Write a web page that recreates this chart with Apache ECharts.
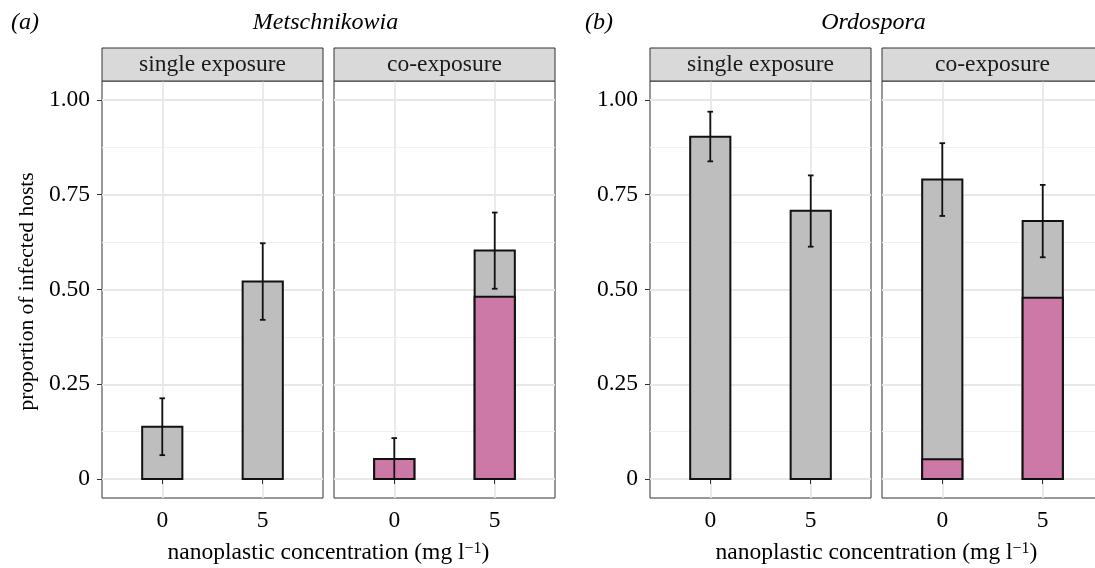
<!DOCTYPE html>
<html>
<head>
<meta charset="utf-8">
<script src="https://cdn.jsdelivr.net/npm/echarts@6/dist/echarts.min.js"></script>
<style>
html,body{margin:0;padding:0;background:#fff;}
#chart{width:1095px;height:568px;}
</style>
</head>
<body>
<div id="chart"></div>
<script>
// ---- data ----
const concentrations = ['0', '5'];
const xPositions = [1, 2];
const facetNames = ['single exposure', 'co-exposure'];
const parasites = ['Metschnikowia', 'Ordospora'];
const panelTags = ['(a)', '(b)'];
const yTicks = [0, 0.25, 0.5, 0.75, 1];
const yMinorTicks = [0.125, 0.375, 0.625, 0.875];

// Metschnikowia
const metSingleTotal = [0.138, 0.521];
const metSingleCo = [0, 0];
const metSingleLow = [0.063, 0.42];
const metSingleHigh = [0.213, 0.622];
const metCoTotal = [0.053, 0.603];
const metCoCo = [0.053, 0.481];
const metCoLow = [0, 0.502];
const metCoHigh = [0.108, 0.703];
// Ordospora
const ordSingleTotal = [0.903, 0.708];
const ordSingleCo = [0, 0];
const ordSingleLow = [0.838, 0.613];
const ordSingleHigh = [0.969, 0.801];
const ordCoTotal = [0.790, 0.681];
const ordCoCo = [0.052, 0.478];
const ordCoLow = [0.694, 0.585];
const ordCoHigh = [0.886, 0.776];

// ---- layout / style ----
const FONT = '"Liberation Serif", "DejaVu Serif", serif';
const facetLeft = [102, 334, 650, 882];
const facetWidth = 221;
const panelTop = 81;
const panelHeight = 417;
const stripH = 33;
const greyFill = '#bebebe';
const pinkFill = '#cc79a7';
const barHalf = 0.2;
const capHalf = 0.028;

const facets = [
  {total: metSingleTotal, co: metSingleCo, low: metSingleLow, high: metSingleHigh},
  {total: metCoTotal, co: metCoCo, low: metCoLow, high: metCoHigh},
  {total: ordSingleTotal, co: ordSingleCo, low: ordSingleLow, high: ordSingleHigh},
  {total: ordCoTotal, co: ordCoCo, low: ordCoLow, high: ordCoHigh}
];

const grids = [], xAxes = [], yAxes = [], series = [];
facets.forEach((f, i) => {
  grids.push({
    left: facetLeft[i], top: panelTop,
    width: facetWidth, height: panelHeight,
    show: true, borderColor: '#333333', borderWidth: 1, backgroundColor: '#ffffff',
    containLabel: false, outerBoundsMode: 'none'
  });
  xAxes.push({
    type: 'value', gridIndex: i, min: 0.4, max: 2.6,
    axisLine: {show: false},
    axisTick: {show: true, length: 5, lineStyle: {color: '#333333', width: 1}, customValues: xPositions},
    axisLabel: {show: true, customValues: xPositions, margin: 11,
      formatter: v => concentrations[xPositions.indexOf(Math.round(v))] || '',
      fontFamily: FONT, fontSize: 23.5, color: '#000'},
    splitLine: {show: true, lineStyle: {color: '#e8e8e8', width: 1.8}}
  });
  const leftmost = (i % 2 === 0);
  yAxes.push({
    type: 'value', gridIndex: i, min: -0.05, max: 1.05,
    axisLine: {show: false},
    axisTick: {show: leftmost, length: 5, lineStyle: {color: '#333333', width: 1}, customValues: yTicks},
    axisLabel: {show: leftmost, customValues: yTicks, margin: 12,
      formatter: v => (Math.abs(v) < 1e-9 ? '0' : v.toFixed(2)),
      fontFamily: FONT, fontSize: 23.5, color: '#000'},
    splitLine: {show: true, lineStyle: {color: '#e8e8e8', width: 1.8}}
  });
  yAxes.push({
    type: 'value', gridIndex: i, min: -0.05, max: 1.05,
    axisLine: {show: false},
    axisTick: {show: false, customValues: yMinorTicks},
    axisLabel: {show: false, customValues: yMinorTicks},
    splitLine: {show: true, lineStyle: {color: '#f0f0f0', width: 1}}
  });
  const data = xPositions.map((x, k) => [x, f.total[k], f.co[k], f.low[k], f.high[k]]);
  series.push({
    type: 'custom', xAxisIndex: i, yAxisIndex: 2 * i, data: data, z: 3,
    renderItem: function (params, api) {
      const x = api.value(0), tot = api.value(1), co = api.value(2), lo = api.value(3), hi = api.value(4);
      const p0 = api.coord([x - barHalf, 0]);
      const pT = api.coord([x + barHalf, tot]);
      const pC = api.coord([x + barHalf, co]);
      const children = [];
      children.push({type: 'rect', shape: {x: p0[0], y: pT[1], width: pT[0] - p0[0], height: p0[1] - pT[1]},
        style: {fill: greyFill, stroke: '#111', lineWidth: 2}});
      if (co > 0) {
        children.push({type: 'rect', shape: {x: p0[0], y: pC[1], width: pC[0] - p0[0], height: p0[1] - pC[1]},
          style: {fill: pinkFill, stroke: '#111', lineWidth: 2}});
      }
      const eL = api.coord([x, lo]), eH = api.coord([x, hi]);
      const cL = api.coord([x - capHalf, lo]), cR = api.coord([x + capHalf, lo]);
      const hL = api.coord([x - capHalf, hi]), hR = api.coord([x + capHalf, hi]);
      const ls = {stroke: '#111', lineWidth: 1.8};
      children.push({type: 'line', shape: {x1: eL[0], y1: eL[1], x2: eH[0], y2: eH[1]}, style: ls});
      children.push({type: 'line', shape: {x1: cL[0], y1: cL[1], x2: cR[0], y2: cR[1]}, style: ls});
      children.push({type: 'line', shape: {x1: hL[0], y1: hL[1], x2: hR[0], y2: hR[1]}, style: ls});
      return {type: 'group', children: children};
    }
  });
});

// strips, titles, axis titles
const graphics = [];
facetLeft.forEach((l, i) => {
  graphics.push({type: 'rect', x: l, y: panelTop - stripH, z: 10,
    shape: {x: 0, y: 0, width: facetWidth, height: stripH},
    style: {fill: '#d9d9d9', stroke: '#333333', lineWidth: 1}});
  graphics.push({type: 'text', x: l + facetWidth / 2, y: panelTop - stripH / 2, z: 11,
    style: {text: facetNames[i % 2], font: '23.5px ' + FONT, fill: '#1a1a1a', align: 'center', verticalAlign: 'middle'}});
});
[0, 1].forEach(p => {
  const left = facetLeft[2 * p], right = facetLeft[2 * p + 1] + facetWidth;
  const mid = (left + right) / 2;
  graphics.push({type: 'text', x: mid - 3, y: 23, z: 11,
    style: {text: parasites[p], font: 'italic 24px ' + FONT, fill: '#000', align: 'center', verticalAlign: 'middle'}});
  graphics.push({type: 'text', x: left - (p === 0 ? 91 : 65), y: 23, z: 11,
    style: {text: panelTags[p], font: 'italic 24px ' + FONT, fill: '#000', align: 'left', verticalAlign: 'middle'}});
  graphics.push({type: 'text', x: mid, y: 553, z: 11,
    style: {text: '{t|nanoplastic concentration (mg l}{s|\u22121}{t|)}', align: 'center', verticalAlign: 'middle',
      rich: {t: {fontFamily: FONT, fontSize: 23.5, fill: '#000', color: '#000', verticalAlign: 'bottom'},
             s: {fontFamily: FONT, fontSize: 16, fill: '#000', color: '#000', verticalAlign: 'top', padding: [0, 0, 8, 0]}}}});
});
graphics.push({type: 'text', x: 27, y: panelTop + panelHeight / 2 + 2, rotation: Math.PI / 2, z: 11,
  style: {text: 'proportion of infected hosts', font: '21.5px ' + FONT, fill: '#000', align: 'center', verticalAlign: 'middle'}});

const chart = echarts.init(document.getElementById('chart'), null, {renderer: 'canvas'});
chart.setOption({
  animation: false,
  backgroundColor: '#ffffff',
  grid: grids, xAxis: xAxes, yAxis: yAxes, series: series,
  graphic: graphics
});
</script>
</body>
</html>
